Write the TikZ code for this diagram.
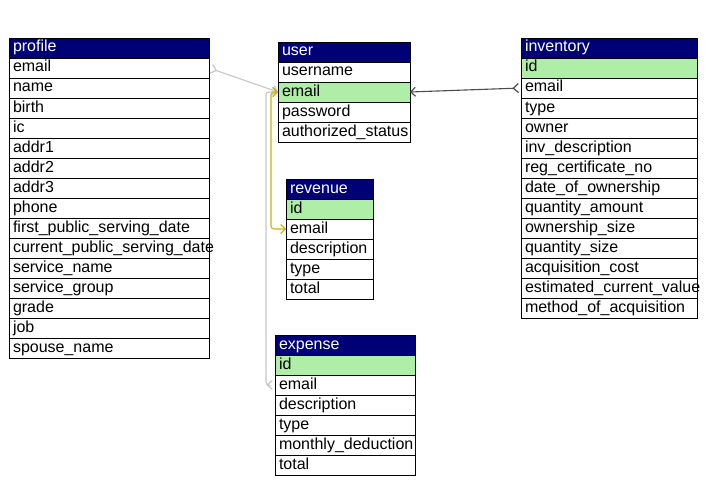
\documentclass[tikz,border=0pt]{standalone}
\usepackage{fontspec}
\setmainfont{Liberation Sans}
\usetikzlibrary{arrows.meta,positioning}

\definecolor{headblue}{RGB}{0,0,118}
\definecolor{keygreen}{RGB}{174,238,166}
\definecolor{linkyellow}{RGB}{204,182,0}

\tikzset{
  barb/.tip={Straight Barb[length=4.5pt, width=9pt, line width=1.2pt]},
  rbarb/.tip={Straight Barb[length=5pt, width=9pt, line width=1.2pt, reversed, sep=2pt]},
}

\begin{document}
\begin{tikzpicture}[
  x=1pt, y=-1pt,
  font=\fontsize{16}{18}\selectfont,
  cell/.style={draw=black, line width=0.9pt, outer sep=0pt, minimum height=20pt,
    inner xsep=4pt, inner ysep=2pt, text height=12pt, text depth=4pt,
    text width=\colw, align=left, anchor=north west},
  head/.style={cell, fill=headblue, text=white},
  field/.style={cell, fill=white},
  keyfield/.style={cell, fill=keygreen},
  link/.style={line width=1.1pt, rounded corners=3pt},
]
\useasboundingbox (0,0) rectangle (727,500);

% ===== profile table =====
\def\colw{192pt}
\node[head] (profile-0) at (9,38) {profile};
\foreach \f [count=\i, evaluate=\i as \j using int(\i-1)] in {email, name, birth, ic,
    addr1, addr2, addr3, phone, first\_public\_serving\_date,
    current\_public\_serving\_date, service\_name, service\_group, grade, job,
    spouse\_name}
  \node[field, below=0pt of profile-\j] (profile-\i) {\f};

% ===== user table =====
\def\colw{124pt}
\node[head] (user-0) at (278,42) {user};
\node[field, below=0pt of user-0] (user-1) {username};
\node[keyfield, below=0pt of user-1] (user-2) {email};
\node[field, below=0pt of user-2] (user-3) {password};
\node[field, below=0pt of user-3] (user-4) {authorized\_status};

% ===== revenue table =====
\def\colw{79pt}
\node[head] (revenue-0) at (286,179) {revenue};
\node[keyfield, below=0pt of revenue-0] (revenue-1) {id};
\foreach \f [count=\i from 2, evaluate=\i as \j using int(\i-1)] in {email, description, type, total}
  \node[field, below=0pt of revenue-\j] (revenue-\i) {\f};

% ===== expense table =====
\def\colw{132pt}
\node[head] (expense-0) at (275,335) {expense};
\node[keyfield, below=0pt of expense-0] (expense-1) {id};
\foreach \f [count=\i from 2, evaluate=\i as \j using int(\i-1)] in {email, description, type,
    monthly\_deduction, total}
  \node[field, below=0pt of expense-\j] (expense-\i) {\f};

% ===== inventory table =====
\def\colw{168pt}
\node[head] (inventory-0) at (521,38) {inventory};
\node[keyfield, below=0pt of inventory-0] (inventory-1) {id};
\foreach \f [count=\i from 2, evaluate=\i as \j using int(\i-1)] in {email, type, owner,
    inv\_description, reg\_certificate\_no, date\_of\_ownership, quantity\_amount,
    ownership\_size, quantity\_size, acquisition\_cost, estimated\_current\_value,
    method\_of\_acquisition}
  \node[field, below=0pt of inventory-\j] (inventory-\i) {\f};

% ===== links to user.email =====
\draw[link, gray!45, rbarb-barb] (profile-1.east) -- (user-2.west);
\draw[link, gray!45, rbarb-barb] (expense-2.west) -- ++(-9,0) |- (user-2.west);
\draw[link, linkyellow, barb-barb] (user-2.west) -- ++(-7,0) |- (revenue-2.west);
\draw[link, gray!60!black, rbarb-barb] (inventory-2.west) -- (user-2.east);

\end{tikzpicture}
\end{document}
